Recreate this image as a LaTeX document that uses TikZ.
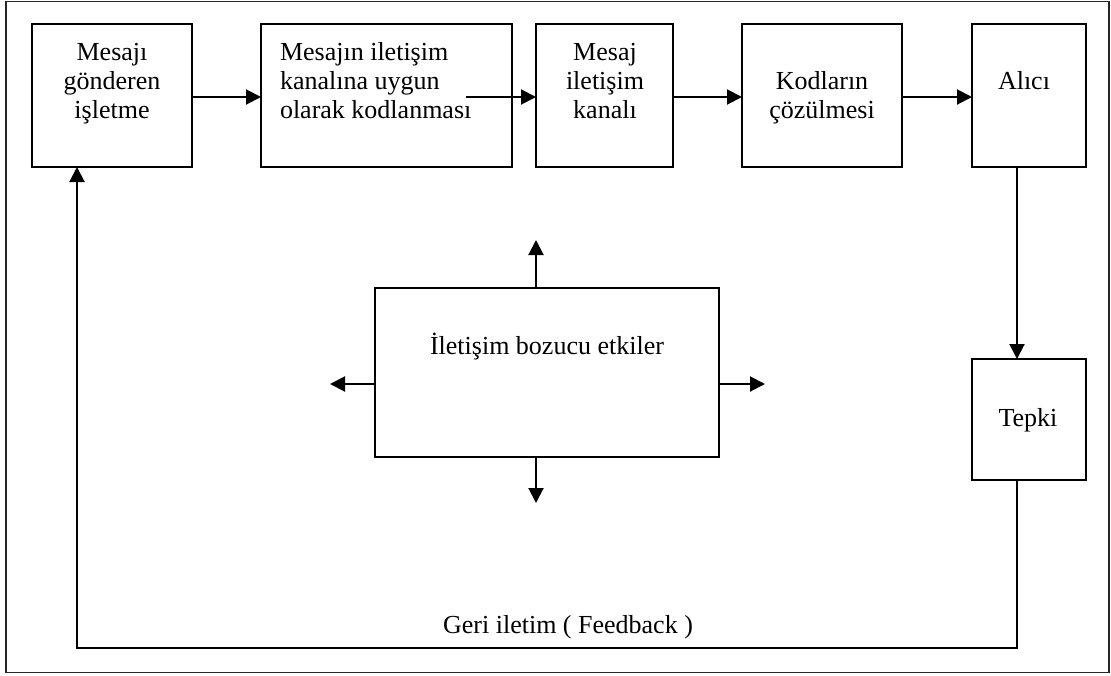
\documentclass[tikz,border=0pt]{standalone}
\usepackage{fontspec}
\setmainfont{Liberation Serif}
\usetikzlibrary{arrows.meta,calc}
\tikzset{
  box/.style={draw=black, line width=2pt, inner sep=0pt, outer sep=0pt, anchor=north west},
  lbl/.style={font=\fontsize{26}{29}\selectfont, inner sep=0pt, outer sep=0pt},
  arr/.style={line width=2pt, -{Triangle[length=15pt,width=15pt]}},
  frame/.style={draw=black!85, line width=1.8pt}
}
\begin{document}
\begin{tikzpicture}[x=1pt,y=-1pt]
\useasboundingbox (0,0) rectangle (1111,675);
\draw[frame] (6,1.5) rectangle (1109,672.5);
% top row boxes
\node[box, minimum width=160pt, minimum height=143pt] (b1) at (32,24) {};
\node[box, minimum width=251pt, minimum height=143pt] (b2) at (261,24) {};
\node[box, minimum width=137pt, minimum height=143pt] (b3) at (536,24) {};
\node[box, minimum width=160pt, minimum height=143pt] (b4) at (742,24) {};
\node[box, minimum width=114pt, minimum height=143pt] (b5) at (972,24) {};
\node[box, minimum width=114pt, minimum height=121pt] (tepki) at (972,359) {};
\node[box, minimum width=344pt, minimum height=169pt] (noise) at (375,288) {};
% texts
\node[lbl, anchor=base] (t1a) at (112,60) {Mesajı};
\node[lbl, anchor=base] (t1b) at (112,89) {gönderen};
\node[lbl, anchor=base] (t1c) at (112,118) {işletme};
\node[lbl, anchor=base west] (t2a) at (280,60) {Mesajın iletişim};
\node[lbl, anchor=base west] (t2b) at (280,89) {kanalına uygun};
\node[lbl, anchor=base west] (t2c) at (280,118) {olarak kodlanması};
\node[lbl, anchor=base] (t3a) at (605,60) {Mesaj};
\node[lbl, anchor=base] (t3b) at (605,89) {iletişim};
\node[lbl, anchor=base] (t3c) at (605,118) {kanalı};
\node[lbl, anchor=base] (t4a) at (822,89) {Kodların};
\node[lbl, anchor=base] (t4b) at (822,118) {çözülmesi};
\node[lbl, anchor=base] (t5a) at (1024,89) {Alıcı};
\node[lbl, anchor=base] (t6) at (1028,426) {Tepki};
\node[lbl, anchor=base] (t7) at (547,354) {İletişim bozucu etkiler};
\node[lbl, anchor=base] (t8) at (568,633) {Geri iletim ( Feedback )};
% helper coordinates
\coordinate (a2s) at (466,97);
\coordinate (cx) at (1017,0);
\coordinate (nx) at (536,0);
\coordinate (ny) at (0,384);
\coordinate (nup) at (536,240);
\coordinate (ndn) at (536,503);
\coordinate (nlt) at (330,384);
\coordinate (nrt) at (765,384);
\coordinate (fbx) at (77,0);
\coordinate (fby) at (0,648);
% top row arrows
\draw[arr] (b1.east |- 0,97) -- (b2.west |- 0,97);
\draw[arr] (a2s) -- (b3.west |- a2s);
\draw[arr] (b3.east |- 0,97) -- (b4.west |- 0,97);
\draw[arr] (b4.east |- 0,97) -- (b5.west |- 0,97);
% Alici to Tepki
\draw[arr] (b5.south -| cx) -- (tepki.north -| cx);
% noise arrows
\draw[arr] (noise.north -| nx) -- (nup);
\draw[arr] (noise.south -| nx) -- (ndn);
\draw[arr] (noise.west |- ny) -- (nlt);
\draw[arr] (noise.east |- ny) -- (nrt);
% feedback
\draw[arr] (tepki.south -| cx) -- (cx |- fby) -- (fbx |- fby) -- (b1.south -| fbx);
\end{tikzpicture}
\end{document}
